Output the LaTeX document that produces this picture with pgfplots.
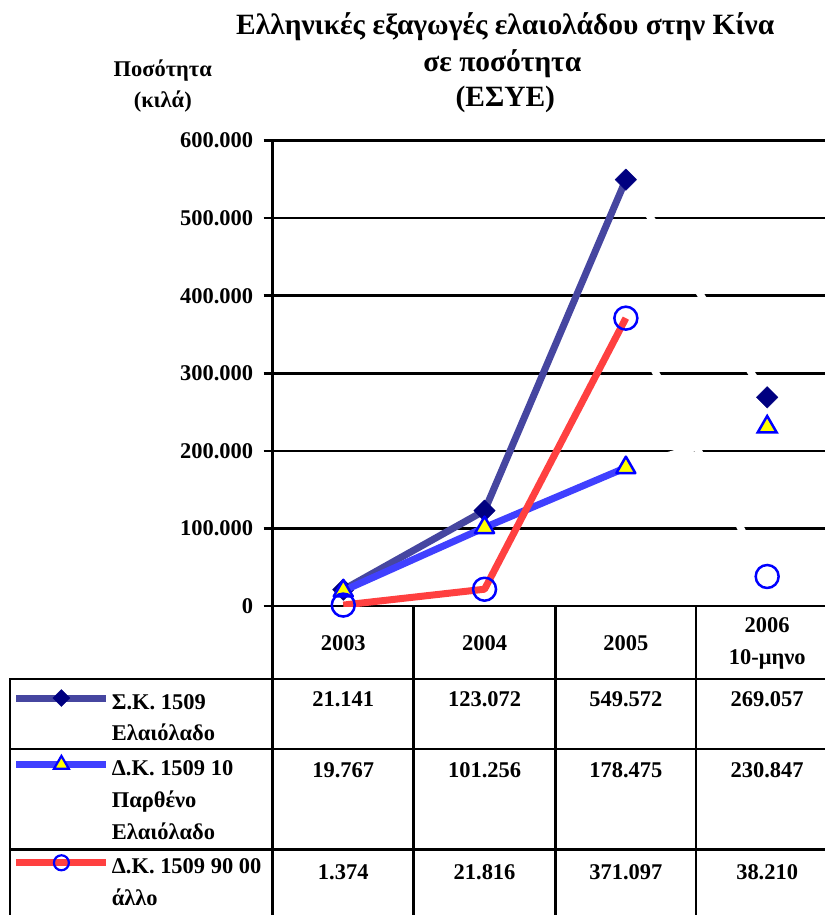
\documentclass[border=0pt]{standalone}
\usepackage{fontspec}
\setmainfont{Liberation Serif}
\usepackage{pgfplots}
\pgfplotsset{compat=1.18}

\definecolor{navyline}{RGB}{70,70,160}
\definecolor{navymark}{RGB}{0,0,128}
\definecolor{blueline}{RGB}{64,64,255}
\definecolor{markblue}{RGB}{0,0,255}
\definecolor{redline}{RGB}{255,64,64}
\definecolor{markyellow}{RGB}{255,255,0}

% one table line: 27pt above the baseline, 5pt below
\newcommand\rs{\rule[-5pt]{0pt}{32pt}}
\newcommand\tabfont{\fontsize{22.5}{32}\selectfont\bfseries}

\begin{document}
\begin{tikzpicture}[x=1pt,y=1pt]

\begin{axis}[
  name=ax,
  scale only axis, width=553pt, height=466.3pt,
  xmin=-0.5, xmax=3.408, ymin=0, ymax=600000,
  axis lines*=left,
  xtick={0,1,2,3},
  xticklabels={2003,2004,2005,{2006\\10-μηνο}},
  ytick={0,100000,...,600000},
  scaled y ticks=false,
  ymajorgrids,
  major grid style={black, line width=2.6pt},
  axis line style={black, line width=2.6pt},
  tick style={black, line width=2.6pt},
  tick align=outside,
  major tick length=9pt,
  x tick style={draw=none},
  y tick label style={font=\tabfont, xshift=-7pt,
    /pgf/number format/.cd, 1000 sep={.}, fixed, assume math mode=true},
  x tick label style={font=\tabfont, anchor=center, align=center, yshift=-28pt},
  clip mode=individual,
  legend cell align=left,
  legend style={at={(-0.47016,-0.15655)}, anchor=north west, draw=none, fill=none,
    inner sep=0pt, outer sep=0pt, row sep=0pt, column sep=0pt,
    cells={anchor=north west},
    nodes={inner xsep=2pt, inner ysep=3pt, outer sep=0pt, align=left, font=\tabfont}},
  legend image code/.code={
    \draw[#1, mark repeat=2, mark phase=2, yshift=-19pt]
      plot coordinates {(0pt,0pt) (45pt,0pt) (90pt,0pt)};},
]

% white links towards the partial 2006 figures
\addplot[forget plot, white, line width=7pt] coordinates {(2,549572) (3,269057)};
\addplot[forget plot, white, line width=7pt] coordinates {(2,178475) (3,230847)};
\addplot[forget plot, white, line width=7pt] coordinates {(2,371097) (3,38210)};

% Σ.Κ. 1509 Ελαιόλαδο
\addplot[forget plot, navyline, line width=7pt, line join=round,
  mark=square*, mark size=7.6pt,
  mark options={draw=navymark, fill=navymark, rotate=45, line width=0.4pt}]
  coordinates {(0,21141) (1,123072) (2,549572)};
\addplot[forget plot, only marks, mark=square*, mark size=7.6pt,
  mark options={draw=navymark, fill=navymark, rotate=45, line width=0.4pt}]
  coordinates {(3,269057)};

% Δ.Κ. 1509 10 Παρθένο Ελαιόλαδο
\addplot[forget plot, blueline, line width=7pt, line join=round,
  mark=triangle*, mark size=11pt,
  mark options={draw=markblue, fill=markyellow, line width=2.5pt}]
  coordinates {(0,19767) (1,101256) (2,178475)};
\addplot[forget plot, only marks, mark=triangle*, mark size=11pt,
  mark options={draw=markblue, fill=markyellow, line width=2.5pt}]
  coordinates {(3,230847)};

% Δ.Κ. 1509 90 00 άλλο
\addplot[forget plot, redline, line width=7pt, line join=round,
  mark=o, mark size=11.5pt,
  mark options={draw=markblue, line width=2.5pt}]
  coordinates {(0,1374) (1,21816) (2,371097)};
\addplot[forget plot, only marks, mark=o, mark size=11.5pt,
  mark options={draw=markblue, line width=2.5pt}]
  coordinates {(3,38210)};

\addlegendimage{navyline, line width=7pt, mark=square*, mark size=6pt,
  mark options={draw=navymark, fill=navymark, rotate=45, line width=0.4pt}}
\addlegendentry{\rs Σ.Κ. 1509\\\rs Ελαιόλαδο}
\addlegendimage{blueline, line width=7pt, mark=triangle*, mark size=8.5pt,
  mark options={draw=markblue, fill=markyellow, line width=2.2pt}}
\addlegendentry{\rs Δ.Κ. 1509 10\\\rs Παρθένο\\\rs Ελαιόλαδο}
\addlegendimage{redline, line width=7pt, mark=o, mark size=7.5pt,
  mark options={draw=markblue, line width=2.2pt}}
\addlegendentry{\rs Δ.Κ. 1509 90 00\\\rs άλλο}
\end{axis}

% everything else is laid out on a page frame whose point (273,-607)
% is the lower left corner of the plot area
\begin{scope}[shift={(ax.south west)}, xshift=-273pt, yshift=607pt]
\path (0,0) rectangle (826,-916);

% data table under the plot
\begin{scope}[line width=2.6pt]
  \draw (10,-916) -- (10,-680) -- (826,-680);
  \draw (10,-750) -- (826,-750);
  \draw (10,-851) -- (826,-851);
  \foreach \x in {273,414,556,697} \draw (\x,-607) -- (\x,-916);
\end{scope}

\begin{scope}[every node/.style={font=\tabfont, anchor=base}]
  \node at (343.75,-708) {21.141};
  \node at (485.25,-708) {123.072};
  \node at (626.75,-708) {549.572};
  \node at (768.25,-708) {269.057};
  \node at (343.75,-779) {19.767};
  \node at (485.25,-779) {101.256};
  \node at (626.75,-779) {178.475};
  \node at (768.25,-779) {230.847};
  \node at (343.75,-881) {1.374};
  \node at (485.25,-881) {21.816};
  \node at (626.75,-881) {371.097};
  \node at (768.25,-881) {38.210};
\end{scope}

% titles
\begin{scope}[every node/.style={font=\fontsize{29.5}{31}\selectfont\bfseries, anchor=base}]
  \node at (506,-35) {Ελληνικές εξαγωγές ελαιολάδου στην Κίνα};
  \node at (503,-72) {σε ποσότητα};
  \node at (506,-107) {(ΕΣΥΕ)};
\end{scope}
\begin{scope}[every node/.style={font=\fontsize{22.5}{27}\selectfont\bfseries, anchor=base}]
  \node at (163,-77) {Ποσότητα};
  \node at (163,-108) {(κιλά)};
\end{scope}
\end{scope}
\end{tikzpicture}
\end{document}
